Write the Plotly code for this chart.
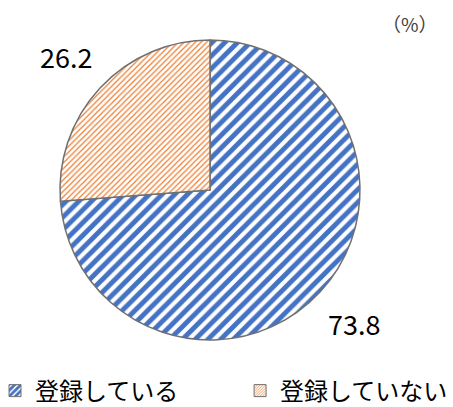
import math
import plotly.graph_objects as go

labels = ["登録している", "登録していない"]
values = [73.8, 26.2]
colors = ["#4472C4", "#ED7D31"]
unit_label = "（%）"

W, H = 453, 407
cx, cy, R = 210, 190, 150
pat_size = [9, 4]
pat_solid = [0.55, 0.3]

fig = go.Figure()
fig.add_trace(go.Pie(
    labels=labels, values=values, sort=False, direction="clockwise", rotation=0,
    textinfo="none", hoverinfo="label+value", showlegend=False,
    marker=dict(
        colors=["white", "white"],
        line=dict(color="#707070", width=1.5),
        pattern=dict(shape=["/", "/"], fgcolor=colors, bgcolor=["white", "white"],
                     size=pat_size, solidity=pat_solid, fgopacity=1, fillmode="replace"),
    ),
    domain=dict(x=[(cx - R) / W, (cx + R) / W], y=[(H - cy - R) / H, (H - cy + R) / H]),
))

# legend entries (one legend per label so they can be spaced like the original)
legend_names = ["legend", "legend2"]
for i, lab in enumerate(labels):
    fig.add_trace(go.Bar(
        x=[None], y=[None], name=lab, showlegend=True, legend=legend_names[i],
        marker=dict(color="white", line=dict(color="#707070", width=1),
                    pattern=dict(shape="/", fgcolor=colors[i], bgcolor="white",
                                 size=pat_size[i] * 0.6, solidity=pat_solid[i] + 0.1,
                                 fillmode="replace")),
    ))

# value labels placed at slice mid-angles, outside the pie
total = sum(values)
start = 0.0
annotations = []
for v in values:
    mid = (start + v / 2) / total * 2 * math.pi
    start += v
    r = 1.31 * R
    px = cx + r * math.sin(mid)
    py = cy - r * math.cos(mid)
    annotations.append(dict(x=px / W, y=1 - py / H, xref="paper", yref="paper",
                            xanchor="center", yanchor="middle",
                            text=f"{v:.1f}", showarrow=False,
                            font=dict(size=27, color="#000000")))
annotations.append(dict(x=1, y=1, xref="paper", yref="paper", xanchor="right", yanchor="top",
                        xshift=-13, yshift=-8,
                        text=unit_label, showarrow=False, font=dict(size=19, color="#404040")))

leg_common = dict(orientation="h", yanchor="bottom", xanchor="left",
                  font=dict(size=24), itemclick=False, bgcolor="rgba(0,0,0,0)")
fig.update_layout(
    width=W, height=H, margin=dict(l=0, r=0, t=0, b=0, autoexpand=False),
    paper_bgcolor="white", plot_bgcolor="white",
    font=dict(family="Noto Sans CJK JP", color="#000000"),
    annotations=annotations,
    xaxis=dict(visible=False), yaxis=dict(visible=False),
    legend=dict(x=-0.011, y=-0.016, **leg_common),
    legend2=dict(x=0.530, y=-0.016, **leg_common),
)
fig.write_html("out.html", config={"displayModeBar": False},
               post_script="document.body.style.margin='0';")
